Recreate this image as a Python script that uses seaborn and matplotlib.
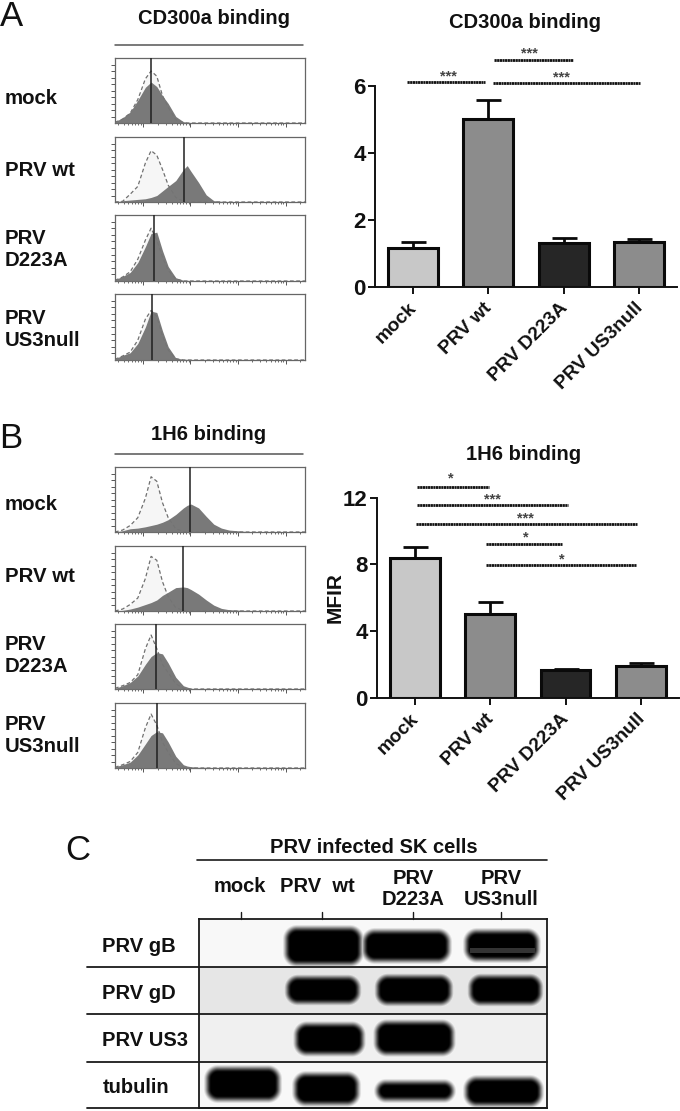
import numpy as np
import matplotlib
matplotlib.use('Agg')
import matplotlib.pyplot as plt
from matplotlib.transforms import ScaledTranslation
import seaborn as sns

W, H = 680, 1111

# dados dos histogramas (altura relativa, leitura a olho)
hist_x = [0, .04, .08, .12, .16, .19, .22, .25, .28, .32, .36, .38, .40, .44, .48, .52, .56, .60, .70, .85, 1.0]

a_mock_fill = [.02, .08, .17, .35, .55, .63, .56, .42, .30, .10, .02, .01, .005, 0, 0, 0, 0, 0, 0, 0, 0]
a_mock_dash = [.01, .06, .15, .36, .68, .80, .72, .42, .24, .05, .005, 0, 0, 0, 0, 0, 0, 0, 0, 0, 0]
a_wt_fill = [0, .02, .03, .04, .05, .07, .10, .17, .24, .33, .50, .56, .47, .30, .11, .02, .01, 0, 0, 0, 0]
a_wt_dash = [0, .01, .12, .24, .60, .79, .72, .50, .26, .07, .01, 0, 0, 0, 0, 0, 0, 0, 0, 0, 0]
a_d_fill = [.02, .07, .13, .28, .52, .72, .74, .46, .22, .05, .01, .01, .005, 0, 0, 0, 0, 0, 0, 0, 0]
a_d_dash = [.01, .06, .14, .33, .62, .80, .62, .36, .16, .03, 0, 0, 0, 0, 0, 0, 0, 0, 0, 0, 0]
a_us_fill = [.02, .07, .11, .25, .50, .74, .72, .44, .20, .03, .01, .01, .005, 0, 0, 0, 0, 0, 0, 0, 0]
a_us_dash = [.01, .06, .12, .30, .62, .75, .66, .36, .15, .02, 0, 0, 0, 0, 0, 0, 0, 0, 0, 0, 0]
b_mock_fill = [0, .02, .05, .06, .08, .10, .12, .15, .19, .27, .37, .41, .43, .37, .24, .12, .06, .03, .005, 0, 0]
b_mock_dash = [0, .03, .10, .22, .52, .85, .78, .45, .22, .05, .01, 0, 0, 0, 0, 0, 0, 0, 0, 0, 0]
b_wt_fill = [0, .01, .03, .06, .10, .13, .17, .24, .29, .36, .37, .36, .33, .26, .17, .09, .04, .02, .005, .005, 0]
b_wt_dash = [0, .03, .10, .20, .50, .84, .78, .45, .22, .05, .01, 0, 0, 0, 0, 0, 0, 0, 0, 0, 0]
b_d_fill = [.01, .05, .10, .20, .38, .50, .56, .54, .40, .18, .05, .03, .01, .005, .005, 0, 0, 0, 0, 0, 0]
b_d_dash = [.01, .05, .10, .22, .62, .83, .62, .38, .25, .08, .01, 0, 0, 0, 0, 0, 0, 0, 0, 0, 0]
b_us_fill = [.02, .05, .09, .20, .37, .50, .56, .54, .40, .18, .05, .03, .02, .01, .01, .005, .005, .005, .005, .005, 0]
b_us_dash = [.01, .05, .10, .24, .62, .83, .66, .40, .24, .07, .01, 0, 0, 0, 0, 0, 0, 0, 0, 0, 0]

a_median = [.188, .363, .207, .195]
b_median = [.396, .358, .218, .219]

# dados das barras
groups = ['mock', 'PRV wt', 'PRV D223A', 'PRV US3null']
a_means = [1.17, 5.0, 1.32, 1.33]
a_tops = [1.35, 5.59, 1.47, 1.43]
b_means = [8.37, 5.02, 1.69, 1.93]
b_tops = [9.06, 5.78, 1.73, 2.09]
bar_colors = ['#c8c8c8', '#8c8c8c', '#262626', '#8c8c8c']

# linhas de significancia
a_sig_start = [-.08, 1.08, 1.06]
a_sig_end = [.95, 2.12, 3.01]
a_sig_y = [6.12, 6.77, 6.09]
a_sig_txt = ['***', '***', '***']
b_sig_start = [.03, .03, .02, .94, .94]
b_sig_end = [.99, 2.03, 2.95, 1.95, 2.93]
b_sig_y = [12.65, 11.55, 10.44, 9.24, 7.97]
b_sig_txt = ['*', '***', '***', '*', '*']

# western blot: bandas (x0, x1, y0, y1) em pixels da figura
blot_rows = ['PRV gB', 'PRV gD', 'PRV US3', 'tubulin']
blot_bg = [.03, .10, .06, .03]
bands = [
    (286, 361, 928, 964), (364, 449, 931, 961), (466, 538, 931, 960),
    (287, 359, 977, 1003), (377, 451, 976, 1004), (470, 541, 976, 1004),
    (296, 363, 1023, 1053), (376, 453, 1021, 1053),
    (207, 279, 1067, 1099), (295, 358, 1073, 1103), (377, 453, 1081, 1099), (466, 541, 1077, 1104),
]
pale_strip = (470, 535, 948, 953)

sns.set_theme(style='white')
plt.rcParams['font.family'] = ['Liberation Sans', 'DejaVu Sans']
plt.rcParams['font.weight'] = 'bold'
plt.rcParams['axes.labelweight'] = 'bold'


def box(x0, y0, x1, y1):
    return [x0 / W, 1 - y1 / H, (x1 - x0) / W, (y1 - y0) / H]


fig = plt.figure(figsize=(W / 100, H / 100), dpi=100, facecolor='white')

# eixo da pagina para textos e linhas soltas
page = fig.add_axes([0, 0, 1, 1], zorder=5)
page.set_xlim(0, W)
page.set_ylim(H, 0)
page.axis('off')
page.patch.set_alpha(0)


def hist_panel(y0, y1, fill, dash, med):
    ax = fig.add_axes(box(115, y0, 305, y1))
    ax.fill_between(hist_x, dash, color='#f6f6f6', lw=0, zorder=1)
    sns.lineplot(x=hist_x, y=dash, ax=ax, color='#707070', lw=.9, ls=(0, (3, 2)), errorbar=None, zorder=2)
    ax.fill_between(hist_x, fill, color='#747474', alpha=.96, lw=0, zorder=3)
    ax.axvline(med, color='#202020', lw=1.1, zorder=4)
    ax.set_xlim(0, 1)
    ax.set_ylim(0, 1)
    major = [.149, .396, .646, .898]
    minor = []
    for m in [-.104] + major[:3] + [.898]:
        minor += [m + .25 * np.log10(k) for k in range(2, 10)]
    minor = [m for m in minor if 0 < m < 1]
    ax.set_xticks(major)
    ax.set_xticks(minor, minor=True)
    ax.set_yticks(np.arange(.1, 1, .1))
    ax.set_yticks(np.arange(.02, 1, .02), minor=True)
    ax.tick_params(axis='x', which='major', length=3, width=.7, color='#555555', bottom=True, labelbottom=False)
    ax.tick_params(axis='x', which='minor', length=1.5, width=.6, color='#555555', bottom=True)
    ax.tick_params(axis='y', which='major', length=3, width=.7, color='#555555', left=True, labelleft=False)
    ax.tick_params(axis='y', which='minor', length=0)
    for s in ax.spines.values():
        s.set_color('#666666')
        s.set_linewidth(.9)
    return ax


a_fills = [a_mock_fill, a_wt_fill, a_d_fill, a_us_fill]
a_dashes = [a_mock_dash, a_wt_dash, a_d_dash, a_us_dash]
b_fills = [b_mock_fill, b_wt_fill, b_d_fill, b_us_fill]
b_dashes = [b_mock_dash, b_wt_dash, b_d_dash, b_us_dash]
a_boxes = [(58, 123), (137, 202), (215, 281), (294, 360)]
b_boxes = [(467, 532), (546, 611), (624, 689), (703, 768)]
for i in range(4):
    hist_panel(a_boxes[i][0], a_boxes[i][1], a_fills[i], a_dashes[i], a_median[i])
    hist_panel(b_boxes[i][0], b_boxes[i][1], b_fills[i], b_dashes[i], b_median[i])


def bar_panel(rect, means, tops, yticks, ymax, sig, stars, ylabel=None):
    ax = fig.add_axes(box(*rect))
    sns.barplot(x=groups, y=means, hue=groups, palette=bar_colors, legend=False, width=.66,
                edgecolor='#0a0a0a', linewidth=2.2, saturation=1, ax=ax)
    up = [t - m for t, m in zip(tops, means)]
    ax.errorbar(range(4), means, yerr=[[0] * 4, up], fmt='none', ecolor='#0a0a0a', elinewidth=2,
                capsize=9, capthick=2, zorder=1)
    ax.set_xlim(-.505, 3.505)
    ax.set_ylim(0, ymax)
    ax.set_yticks(yticks)
    ax.tick_params(axis='y', labelsize=16, length=5, width=1.4, color='#111111', left=True, pad=1.5)
    ax.tick_params(axis='x', labelsize=13.8, length=5, width=1.4, color='#111111', bottom=True, pad=4)
    ax.set_xticks(range(4))
    ax.set_xticklabels(groups, rotation=45, ha='right', rotation_mode='anchor', color='#111111')
    shift = ScaledTranslation(-5 / 100, 0, fig.dpi_scale_trans)
    for lab in ax.get_xticklabels():
        lab.set_transform(lab.get_transform() + shift)
    for lab in ax.get_yticklabels():
        lab.set_color('#111111')
    sns.despine(ax=ax)
    ax.spines['left'].set_linewidth(1.4)
    ax.spines['bottom'].set_linewidth(1.4)
    ax.spines['left'].set_color('#111111')
    ax.spines['bottom'].set_color('#111111')
    for x0, x1, y in zip(sig[0], sig[1], sig[2]):
        ax.plot([x0, x1], [y, y], color='#111111', lw=2, ls=(0, (.8, .15)), clip_on=False)
    for (tx, ty), s in zip(stars, sig[3]):
        ax.text(tx, ty, s, ha='center', va='center', fontsize=10.5, color='#444444', clip_on=False)
    if ylabel:
        ax.set_ylabel(ylabel, fontsize=15, labelpad=-1, color='#111111')
    return ax


bar_panel((375, 86, 677, 287), a_means, a_tops, [0, 2, 4, 6], 6,
          (a_sig_start, a_sig_end, a_sig_y, a_sig_txt), [(.465, 6.27), (1.54, 6.98), (1.97, 6.24)])
bar_panel((376.7, 497.7, 679, 698), b_means, b_tops, [0, 4, 8, 12], 12,
          (b_sig_start, b_sig_end, b_sig_y, b_sig_txt),
          [(.48, 13.15), (1.03, 11.9), (1.47, 10.75), (1.47, 9.6), (1.95, 8.3)], ylabel='MFIR')

# western blot
blot = fig.add_axes(box(199, 919.3, 547, 1107.7))
gy, gx = np.mgrid[919.5:1107.5:1, 199.5:547:1]
img = np.zeros_like(gx)
row_edges = [919.3, 967, 1014.3, 1061.7, 1107.7]
for i in range(4):
    mask = (gy >= row_edges[i]) & (gy < row_edges[i + 1])
    img[mask] = blot_bg[i]
for x0, x1, y0, y1 in bands:
    r = min(11, (y1 - y0) / 2)
    dx = np.maximum(np.abs(gx - (x0 + x1) / 2) - (x1 - x0) / 2 + r, 0)
    dy = np.maximum(np.abs(gy - (y0 + y1) / 2) - (y1 - y0) / 2 + r, 0)
    d = np.hypot(dx, dy) - r
    t = np.clip(.5 - d / 9, 0, 1)
    img = np.maximum(img, t * t * (3 - 2 * t))
x0, x1, y0, y1 = pale_strip
img[(gx > x0) & (gx < x1) & (gy > y0) & (gy < y1)] = .8
sns.heatmap(img, cmap='gray_r', vmin=0, vmax=1, cbar=False, xticklabels=False, yticklabels=False, ax=blot)
blot.set_xticks([])
blot.set_yticks([])
for s in blot.spines.values():
    s.set_visible(True)
    s.set_color('#1a1a1a')
    s.set_linewidth(1.3)

for y in row_edges[1:]:
    page.plot([87, 547], [y, y], color='#1a1a1a', lw=1.3)
for x in [240.7, 321.7, 412.7, 501]:
    page.plot([x, x], [911.5, 919.3], color='#1a1a1a', lw=1)
page.plot([197, 547], [860.3, 860.3], color='#1a1a1a', lw=1.2)
page.plot([115, 303], [44.5, 44.5], color='#555555', lw=1.1)
page.plot([115, 303], [453.5, 453.5], color='#555555', lw=1.1)

dark = '#111111'
for lab, x, y in [('A', 12, 16), ('B', 11, 438), ('C', 78, 850)]:
    page.text(x, y, lab, fontsize=25, fontweight='normal', ha='center', va='center', color=dark)
for txt, x, y in [('CD300a binding', 214, 19), ('CD300a binding', 525, 22),
                  ('1H6 binding', 209, 435), ('1H6 binding', 524, 454),
                  ('PRV infected SK cells', 374, 847.5)]:
    page.text(x, y, txt, fontsize=14.5, ha='center', va='center', color=dark)
for txt, y in [('mock', 98), ('PRV wt', 171), ('PRV\nD223A', 249), ('PRV\nUS3null', 330),
               ('mock', 504), ('PRV wt', 577), ('PRV\nD223A', 655), ('PRV\nUS3null', 735)]:
    page.text(5, y, txt, fontsize=14.7, ha='left', va='center', color=dark, linespacing=1.2)
for txt, x, y in [('mock', 240, 887), ('PRV  wt', 317.5, 886), ('PRV\nD223A', 413, 889), ('PRV\nUS3null', 501, 889)]:
    page.text(x, y, txt, fontsize=14.5, ha='center', va='center', color=dark, linespacing=1.15)
for txt, y in zip(blot_rows, [946, 993.5, 1040.5, 1087.5]):
    page.text(102.5, y, txt, fontsize=14.5, ha='left', va='center', color=dark)

fig.savefig('out.png', dpi=100)
